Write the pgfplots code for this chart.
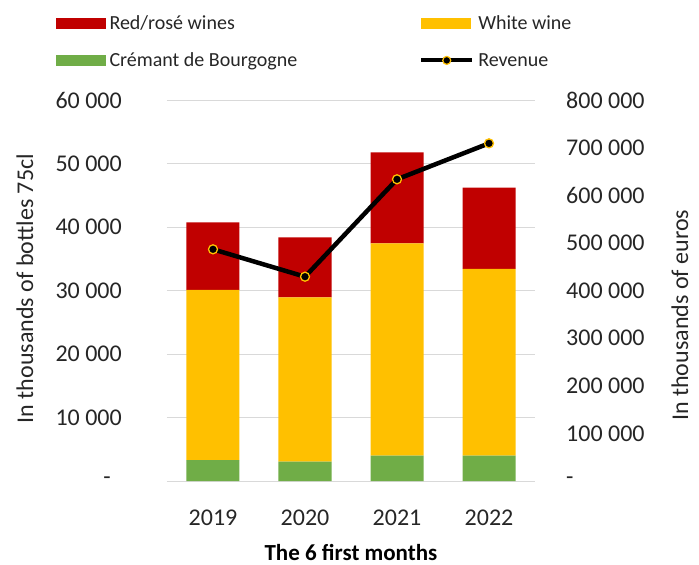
\documentclass[border=0pt]{standalone}
\usepackage{fontspec}
\setmainfont{Carlito}
\usepackage{pgfplots}
\pgfplotsset{compat=1.18}
\definecolor{cred}{HTML}{C00000}
\definecolor{cyel}{HTML}{FFC000}
\definecolor{cgrn}{HTML}{70AD47}
\definecolor{cgrid}{HTML}{D9D9D9}
\definecolor{ctext}{HTML}{262626}
\begin{document}
\begin{tikzpicture}
\begin{axis}[
  name=ax,
  scale only axis, width=368pt, height=381pt,
  xmin=-0.5, xmax=3.5, ymin=0, ymax=60000,
  ybar stacked, bar width=53pt,
  axis x line*=bottom, axis y line*=left,
  x axis line style={draw=cgrid, line width=1pt, -},
  y axis line style={draw=none},
  tick style={draw=none},
  xtick={0,1,2,3}, xticklabels={2019,2020,2021,2022},
  ytick={0,10000,20000,30000,40000,50000,60000},
  yticklabels={{-\hspace*{11pt}},10 000,20 000,30 000,40 000,50 000,60 000},
  scaled y ticks=false,
  ymajorgrids, grid style={cgrid, line width=1pt},
  yticklabel style={anchor=east, inner sep=0pt, xshift=-45pt, font=\fontsize{24}{28}\selectfont, text=ctext},
  xticklabel style={anchor=base, inner sep=0pt, yshift=-44pt, font=\fontsize{24}{28}\selectfont, text=ctext},
  xlabel={The 6 first months},
  xlabel style={at={(axis description cs:0.5,0)}, anchor=base, inner sep=0pt, yshift=-79pt, font=\bfseries\fontsize{23}{27}\selectfont, text=black},
  ylabel={In thousands of bottles 75cl},
  ylabel style={at={(axis description cs:-0.364,0.505)}, anchor=base, inner sep=0pt, font=\fontsize{24}{28}\selectfont, text=ctext},
  legend columns=2,
  legend style={at={(axis description cs:-0.31,1.228)}, anchor=north west, draw=none, fill=none,
    font=\fontsize{20}{24}\selectfont, text=ctext, row sep=22pt,
    nodes={inner xsep=4pt, inner ysep=0pt, anchor=west},
    /tikz/every even column/.append style={column sep=118pt}},
]
\addplot[fill=cgrn, draw=none, forget plot] coordinates {(0,3300) (1,3050) (2,4000) (3,4000)};
\addplot[fill=cyel, draw=none, forget plot] coordinates {(0,26780) (1,25880) (2,33430) (3,29390)};
\addplot[fill=cred, draw=none, forget plot] coordinates {(0,10660) (1,9450) (2,14330) (3,12800)};
\addlegendimage{legend image code/.code={\fill[cred] (0pt,-5pt) rectangle (49pt,5pt);}}
\addlegendentry{Red/rosé wines}
\addlegendimage{legend image code/.code={\fill[cyel] (0pt,-5pt) rectangle (49pt,5pt);}}
\addlegendentry{White wine}
\addlegendimage{legend image code/.code={\fill[cgrn] (0pt,-5pt) rectangle (49pt,5pt);}}
\addlegendentry{Crémant de Bourgogne}
\addlegendimage{legend image code/.code={\draw[black, line width=4pt] (0pt,0pt) -- (51pt,0pt); \draw[cyel, fill=black, line width=1.2pt] (25.5pt,0pt) circle (4pt);}}
\addlegendentry{Revenue}
\end{axis}
\begin{axis}[
  scale only axis, width=368pt, height=381pt,
  xmin=-0.5, xmax=3.5, ymin=0, ymax=800000,
  axis x line=none, axis y line*=right,
  y axis line style={draw=none},
  tick style={draw=none},
  ytick={0,100000,200000,300000,400000,500000,600000,700000,800000},
  yticklabels={-,100 000,200 000,300 000,400 000,500 000,600 000,700 000,800 000},
  scaled y ticks=false,
  yticklabel style={anchor=west, inner sep=0pt, xshift=31pt, font=\fontsize{24}{28}\selectfont, text=ctext},
  ylabel={In thousands of euros},
  ylabel style={at={(axis description cs:1.416,0.435)}, anchor=base, inner sep=0pt, font=\fontsize{24}{28}\selectfont, text=ctext},
]
\addplot[black, line width=4.5pt, mark=*, mark size=4.5pt, mark options={fill=black, draw=cyel, line width=1.3pt}] coordinates {(0,486500) (1,429000) (2,633500) (3,709000)};
\end{axis}
\path (ax.south west) ++(-167pt,-84pt) rectangle ++(699pt,565pt);
\end{tikzpicture}
\end{document}
